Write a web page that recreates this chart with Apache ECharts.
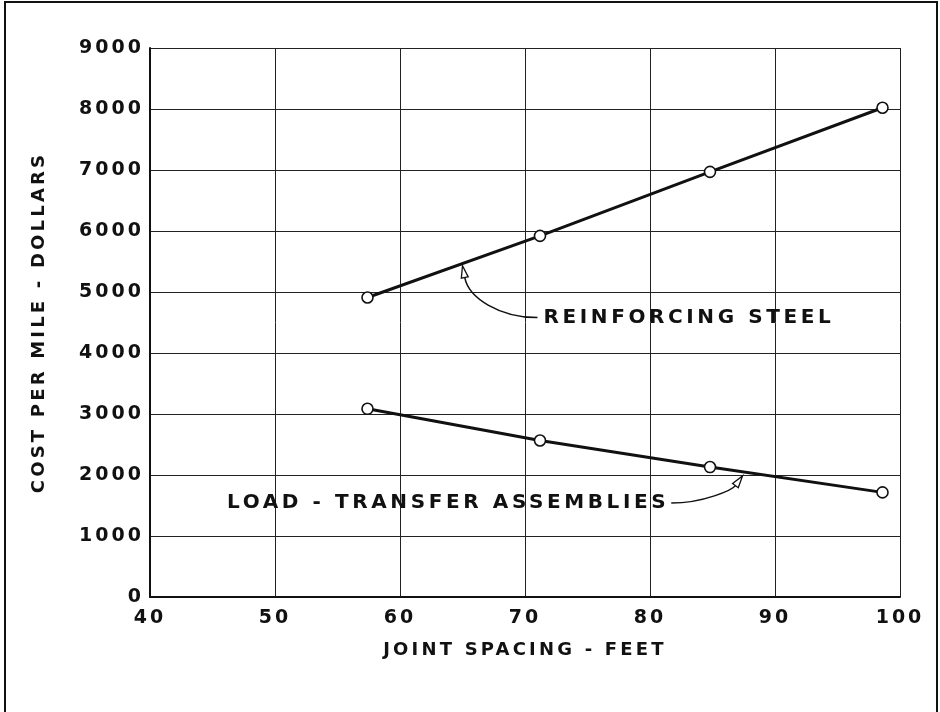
<!DOCTYPE html>
<html>
<head>
<meta charset="utf-8">
<script src="https://cdn.jsdelivr.net/npm/echarts@6/dist/echarts.min.js"></script>
<style>
html,body{margin:0;padding:0;background:#fff;}
#chart{width:940px;height:712px;}
</style>
</head>
<body>
<div id="chart"></div>
<script>
// ---- data ----
const jointSpacing = [57.4, 71.2, 84.8, 98.6];
const reinforcingSteel = [4910, 5920, 6970, 8020];
const loadTransfer = [3085, 2565, 2130, 1715];
const xTicks = [40, 50, 60, 70, 80, 90, 100];
const yTicks = [0, 1000, 2000, 3000, 4000, 5000, 6000, 7000, 8000, 9000];
const xAxisTitle = 'JOINT SPACING - FEET';
const yAxisTitle = 'COST PER MILE - DOLLARS';
const steelLabel = 'REINFORCING STEEL';
const loadLabel = 'LOAD - TRANSFER ASSEMBLIES';
// annotation anchors in data units: [text anchor, ctrl1, ctrl2, arrow tip]
const steelArrow = [[71.0, 4580], [68.0, 4580], [65.5, 4900], [65.0, 5430]];
const loadArrow = [[81.7, 1540], [84.3, 1540], [86.6, 1760], [87.4, 1985]];

// Drafting-style lettering is widely spaced: add canvas letter spacing proportional to font size.
const FONT_TICK = '"DejaVu Sans", sans-serif';
const FONT_TEXT = '"DejaVu Sans", Verdana, sans-serif';
(function () {
  const proto = CanvasRenderingContext2D.prototype;
  const desc = Object.getOwnPropertyDescriptor(proto, 'font');
  if (!desc || !('letterSpacing' in proto)) return;
  Object.defineProperty(proto, 'font', {
    configurable: true,
    get: function () { return desc.get.call(this); },
    set: function (v) {
      desc.set.call(this, v);
      const m = /(\d+(?:\.\d+)?)px/.exec(v);
      const size = m ? parseFloat(m[1]) : 12;
      const k = /Verdana/.test(v) ? 0.18 : 0.16;
      this.letterSpacing = (size * k).toFixed(1) + 'px';
    }
  });
})();

const chart = echarts.init(document.getElementById('chart'), null, {renderer: 'canvas'});

function pairs(xs, ys) { return xs.map((x, i) => [x, ys[i]]); }

const option = {
  backgroundColor: '#ffffff',
  animation: false,
  grid: {left: 150, right: 40, top: 48, bottom: 115, containLabel: false},
  xAxis: {
    type: 'value', min: xTicks[0], max: xTicks[xTicks.length - 1], interval: 10,
    name: xAxisTitle, nameLocation: 'middle', nameGap: 43,
    nameTextStyle: {fontFamily: FONT_TEXT, fontSize: 18, fontWeight: 'bold', color: '#111'},
    axisLine: {show: true, lineStyle: {color: '#111', width: 2}},
    axisTick: {show: false},
    axisLabel: {fontFamily: FONT_TICK, fontSize: 19, fontWeight: 'bold', color: '#111', margin: 10,
      formatter: v => String(v)},
    splitLine: {show: true, lineStyle: {color: '#222', width: 1}}
  },
  yAxis: {
    type: 'value', min: yTicks[0], max: yTicks[yTicks.length - 1], interval: 1000,
    name: yAxisTitle, nameLocation: 'middle', nameGap: 100, nameRotate: 90,
    nameTextStyle: {fontFamily: FONT_TEXT, fontSize: 18, fontWeight: 'bold', color: '#111'},
    axisLine: {show: true, lineStyle: {color: '#111', width: 2}},
    axisTick: {show: false},
    axisLabel: {fontFamily: FONT_TICK, fontSize: 19, fontWeight: 'bold', color: '#111', margin: 6,
      formatter: v => String(v)},
    splitLine: {show: true, lineStyle: {color: '#222', width: 1}}
  },
  series: [
    {
      name: steelLabel, type: 'line', data: pairs(jointSpacing, reinforcingSteel),
      symbol: 'circle', symbolSize: 11,
      itemStyle: {color: '#fff', borderColor: '#111', borderWidth: 1.6},
      lineStyle: {color: '#111', width: 3}, z: 5
    },
    {
      name: loadLabel, type: 'line', data: pairs(jointSpacing, loadTransfer),
      symbol: 'circle', symbolSize: 11,
      itemStyle: {color: '#fff', borderColor: '#111', borderWidth: 1.6},
      lineStyle: {color: '#111', width: 3}, z: 5
    }
  ]
};
chart.setOption(option);

function px(p) { return chart.convertToPixel({gridIndex: 0}, p); }

function arrowGraphics(pts) {
  const P = pts.map(px);
  const tip = P[3], c2 = P[2];
  const dx = tip[0] - c2[0], dy = tip[1] - c2[1];
  const L = Math.hypot(dx, dy) || 1;
  const ux = dx / L, uy = dy / L;
  const len = 12, half = 3.5;
  const bx = tip[0] - ux * len, by = tip[1] - uy * len;
  const nx = -uy, ny = ux;
  return [
    {
      type: 'bezierCurve', silent: true, z: 10,
      shape: {x1: P[0][0], y1: P[0][1], cpx1: P[1][0], cpy1: P[1][1], cpx2: P[2][0], cpy2: P[2][1], x2: bx, y2: by},
      style: {stroke: '#111', lineWidth: 1.5, fill: null}
    },
    {
      type: 'polygon', silent: true, z: 10,
      shape: {points: [tip, [bx + nx * half, by + ny * half], [bx - nx * half, by - ny * half]]},
      style: {stroke: '#111', lineWidth: 1.3, fill: '#fff'}
    }
  ];
}

const sA = px(steelArrow[0]);
const lA = px(loadArrow[0]);

chart.setOption({
  graphic: [
    {
      type: 'rect', silent: true, z: 0,
      shape: {x: 5, y: 2, width: 932, height: 720},
      style: {stroke: '#111', lineWidth: 2, fill: null}
    },
    {
      type: 'text', silent: true, z: 10,
      x: sA[0] + 6, y: sA[1],
      style: {text: steelLabel, font: 'bold 20px ' + FONT_TEXT, fill: '#111', textAlign: 'left', textVerticalAlign: 'middle'}
    },
    {
      type: 'text', silent: true, z: 10,
      x: lA[0] - 2, y: lA[1],
      style: {text: loadLabel, font: 'bold 20px ' + FONT_TEXT, fill: '#111', textAlign: 'right', textVerticalAlign: 'middle'}
    }
  ].concat(arrowGraphics(steelArrow), arrowGraphics(loadArrow))
});
</script>
</body>
</html>
